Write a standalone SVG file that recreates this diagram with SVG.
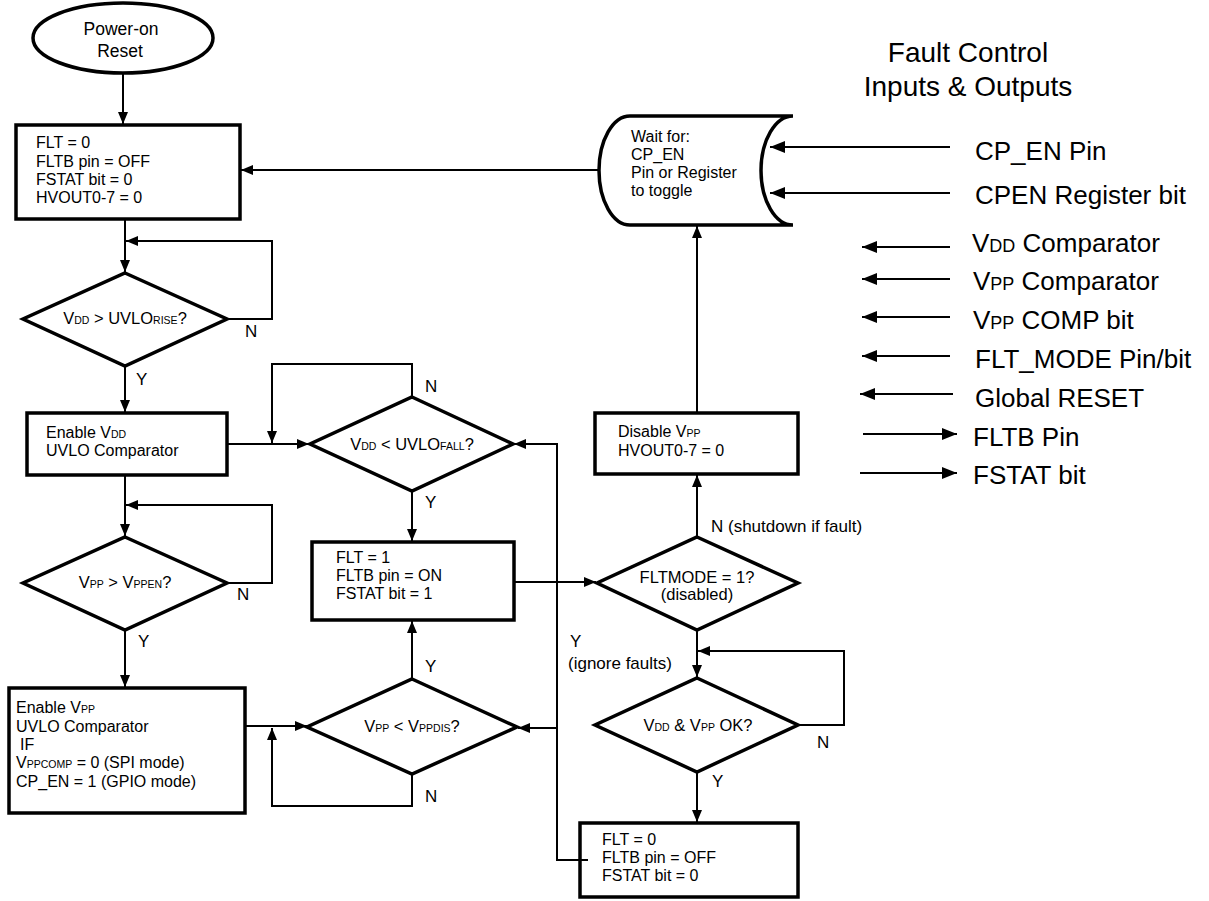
<svg xmlns="http://www.w3.org/2000/svg" width="1209" height="901" viewBox="0 0 1209 901">
<defs>
<style>
text{font-family:"Liberation Sans",Arial,sans-serif;fill:#000}
.shape{fill:#fff;stroke:#000;stroke-width:3.5}
.c{fill:none;stroke:#000;stroke-width:2;marker-end:url(#ah)}
.lg{fill:none;stroke:#000;stroke-width:2;marker-end:url(#ahL)}
.bt{font-size:16px}
.dt{font-size:16.5px}
.lb{font-size:17px}
.lt{font-size:26px}
.s{font-size:10.5px}
.sl{font-size:18px}
</style>
<marker id="ah" viewBox="0 0 12 10" refX="12" refY="5" markerWidth="12" markerHeight="10" markerUnits="userSpaceOnUse" orient="auto"><path d="M0,0 L12,5 L0,10 z" fill="#000"/></marker>
<marker id="ahL" viewBox="0 0 15 12" refX="15" refY="6" markerWidth="15" markerHeight="12" markerUnits="userSpaceOnUse" orient="auto"><path d="M0,0 L15,6 L0,12 z" fill="#000"/></marker>
</defs>
<rect width="1209" height="901" fill="#fff"/>

<g id="title">
<text x="968" y="62" font-size="28" text-anchor="middle">Fault Control</text>
<text x="968" y="96" font-size="28" text-anchor="middle">Inputs &amp; Outputs</text>
</g>

<g id="n-por">
<ellipse cx="123" cy="38" rx="90" ry="35" class="shape"/>
<text x="121" y="35" font-size="17.5" text-anchor="middle">Power-on</text>
<text x="120" y="57" font-size="17.5" text-anchor="middle">Reset</text>
</g>

<g id="n-init">
<rect x="16" y="125" width="224" height="94" class="shape"/>
<text class="bt" x="36" y="148">FLT = 0</text>
<text class="bt" x="36" y="167">FLTB pin = OFF</text>
<text class="bt" x="36" y="185">FSTAT bit = 0</text>
<text class="bt" x="36" y="203">HVOUT0-7 = 0</text>
</g>

<g id="d-uvlorise">
<polygon points="125,273 227,319 125,366 23,319" class="shape"/>
<text class="dt" x="125" y="324" text-anchor="middle">V<tspan class="s">DD</tspan> &gt; UVLO<tspan class="s">RISE</tspan>?</text>
</g>

<g id="n-envdd">
<rect x="27" y="413" width="200" height="62" class="shape"/>
<text class="bt" x="46" y="438">Enable V<tspan class="s">DD</tspan></text>
<text class="bt" x="46" y="456">UVLO Comparator</text>
</g>

<g id="d-vppen">
<polygon points="125,537 227,583 125,630 23,583" class="shape"/>
<text class="dt" x="125" y="588" text-anchor="middle">V<tspan class="s">PP</tspan> &gt; V<tspan class="s">PPEN</tspan>?</text>
</g>

<g id="n-envpp">
<rect x="9" y="688" width="236" height="125" class="shape"/>
<text class="bt" x="16" y="713">Enable V<tspan class="s">PP</tspan></text>
<text class="bt" x="16" y="732">UVLO Comparator</text>
<text class="bt" x="20" y="750">IF</text>
<text class="bt" x="16" y="768">V<tspan class="s">PPCOMP</tspan> = 0 (SPI mode)</text>
<text class="bt" x="16" y="787">CP_EN = 1 (GPIO mode)</text>
</g>

<g id="d-uvlofall">
<polygon points="412,397 513,444 412,491 310,444" class="shape"/>
<text class="dt" x="412" y="450" text-anchor="middle">V<tspan class="s">DD</tspan> &lt; UVLO<tspan class="s">FALL</tspan>?</text>
</g>

<g id="n-flt1">
<rect x="312" y="542" width="202" height="78" class="shape"/>
<text class="bt" x="336" y="563">FLT = 1</text>
<text class="bt" x="336" y="581">FLTB pin = ON</text>
<text class="bt" x="336" y="599">FSTAT bit = 1</text>
</g>

<g id="d-vppdis">
<polygon points="412,679 517,727 412,774 307,727" class="shape"/>
<text class="dt" x="412" y="732" text-anchor="middle">V<tspan class="s">PP</tspan> &lt; V<tspan class="s">PPDIS</tspan>?</text>
</g>

<g id="d-fltmode">
<polygon points="697,537 798,583 697,630 597,583" class="shape"/>
<text class="dt" x="697" y="583" text-anchor="middle">FLTMODE = 1?</text>
<text class="dt" x="697" y="600" text-anchor="middle">(disabled)</text>
</g>

<g id="n-disable">
<rect x="595" y="413" width="203" height="61" class="shape"/>
<text class="bt" x="618" y="437">Disable V<tspan class="s">PP</tspan></text>
<text class="bt" x="618" y="456">HVOUT0-7 = 0</text>
</g>

<g id="n-wait">
<path d="M630,116 H793 A32,54.5 0 0 0 793,225 H630 A31,54.5 0 0 1 630,116 Z" class="shape"/>
<text class="bt" x="631" y="142">Wait for:</text>
<text class="bt" x="631" y="160">CP_EN</text>
<text class="bt" x="631" y="178">Pin or Register</text>
<text class="bt" x="631" y="196">to toggle</text>
</g>

<g id="d-ok">
<polygon points="697,678 798,725 697,772 595,725" class="shape"/>
<text class="dt" x="698" y="731" text-anchor="middle">V<tspan class="s">DD</tspan> &amp; V<tspan class="s">PP</tspan> OK?</text>
</g>

<g id="n-clear">
<rect x="580" y="823" width="218" height="74" class="shape"/>
<text class="bt" x="602" y="845">FLT = 0</text>
<text class="bt" x="602" y="863">FLTB pin = OFF</text>
<text class="bt" x="602" y="881">FSTAT bit = 0</text>
</g>

<g id="connectors">
<path class="c" d="M123,73 V124"/>
<path class="c" d="M125,219 V272"/>
<path class="c" d="M227,319 H272 V241 H126"/>
<path class="c" d="M125,366 V412"/>
<path class="c" d="M125,475 V536"/>
<path class="c" d="M227,583 H272 V505 H126"/>
<path class="c" d="M125,630 V687"/>
<path class="c" d="M245,726 H307"/>
<path class="c" d="M412,774 V806 H272 V728"/>
<path class="c" d="M412,679 V621"/>
<path class="c" d="M227,444 H309"/>
<path class="c" d="M412,397 V364 H272 V443"/>
<path class="c" d="M412,491 V541"/>
<path class="c" d="M514,582 H596"/>
<path class="c" d="M697,537 V475"/>
<path class="c" d="M697,413 V226"/>
<path class="c" d="M599,170 H241"/>
<path class="c" d="M697,630 V677"/>
<path class="c" d="M798,725 H844 V651 H698"/>
<path class="c" d="M697,772 V822"/>
<path class="c" d="M588,860 H557 V444 H514"/>
<path class="c" d="M557,728 H518"/>
</g>

<g id="labels">
<text class="lb" x="245" y="337">N</text>
<text class="lb" x="136" y="385">Y</text>
<text class="lb" x="237" y="600">N</text>
<text class="lb" x="138" y="647">Y</text>
<text class="lb" x="425" y="392">N</text>
<text class="lb" x="425" y="508">Y</text>
<text class="lb" x="425" y="672">Y</text>
<text class="lb" x="425" y="802">N</text>
<text class="lb" x="711" y="532">N (shutdown if fault)</text>
<text class="lb" x="570" y="647">Y</text>
<text class="lb" x="568" y="669">(ignore faults)</text>
<text class="lb" x="817" y="748">N</text>
<text class="lb" x="712" y="787">Y</text>
</g>

<g id="legend">
<path class="lg" d="M950,147 H770"/>
<path class="lg" d="M950,193 H770"/>
<path class="lg" d="M950,247 H862"/>
<path class="lg" d="M950,279 H862"/>
<path class="lg" d="M950,317 H862"/>
<path class="lg" d="M950,356 H862"/>
<path class="lg" d="M953,394 H860"/>
<path class="lg" d="M863,434 H957"/>
<path class="lg" d="M860,473 H957"/>
<text class="lt" x="975" y="160">CP_EN Pin</text>
<text class="lt" x="975" y="204">CPEN Register bit</text>
<text class="lt" x="972" y="252">V<tspan class="sl">DD</tspan> Comparator</text>
<text class="lt" x="973" y="290">V<tspan class="sl">PP</tspan> Comparator</text>
<text class="lt" x="973" y="329">V<tspan class="sl">PP</tspan> COMP bit</text>
<text class="lt" x="975" y="368">FLT_MODE Pin/bit</text>
<text class="lt" x="975" y="407">Global RESET</text>
<text class="lt" x="973" y="446">FLTB Pin</text>
<text class="lt" x="973" y="484">FSTAT bit</text>
</g>
</svg>
